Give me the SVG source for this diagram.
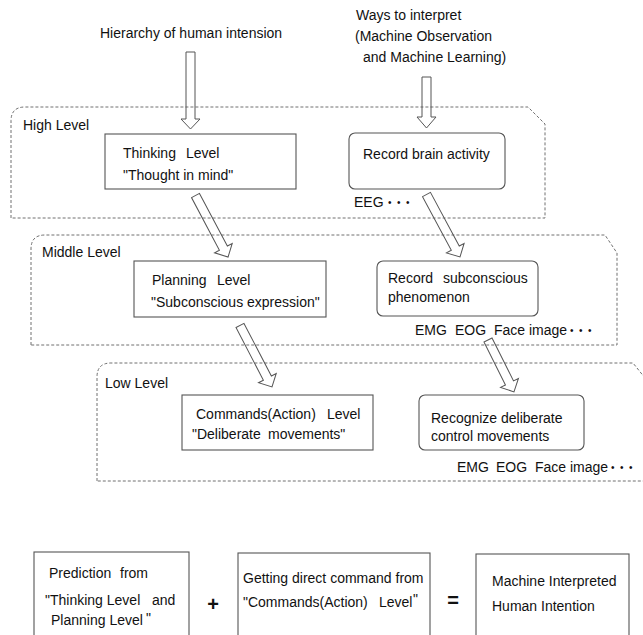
<svg xmlns="http://www.w3.org/2000/svg" width="643" height="635" viewBox="0 0 643 635">
<style>
text{font-family:"Liberation Sans",Arial,sans-serif;font-size:14px;fill:#111;white-space:pre}
.region{fill:none;stroke:#707070;stroke-width:1;stroke-dasharray:3,2}
.box{fill:#fff;stroke:#555;stroke-width:1.1}
.arrow{fill:none;stroke:#555;stroke-width:1}
.dots{font-size:10px;letter-spacing:0}
.op{font-size:20px;font-weight:bold}
</style>
<rect width="643" height="635" fill="#fff"/>
<g id="regions">
<path id="high-level-frame" class="region" d="M11,218 L11,121 Q11,107 25,107 L528,107 L545,124 L545,218 Z"/>
<path id="middle-level-frame" class="region" d="M31,345 L31,249 Q31,235 45,235 L605,235 L617,253 L617,345 Z"/>
<path id="low-level-frame" class="region" d="M97,481 L97,377 Q97,363 111,363 L633,363 L645,378 L645,481 Z"/>
</g>
<g id="labels">
<text x="100" y="38">Hierarchy of human intension</text>
<text x="356" y="20">Ways to interpret</text>
<text x="355" y="41">(Machine Observation</text>
<text x="363" y="62">and Machine Learning)</text>
<text x="23" y="130">High Level</text>
<text x="42" y="257">Middle Level</text>
<text x="105" y="388">Low Level</text>
<text x="354" y="207">EEG</text>
<text class="dots" x="388" y="206">•  •  •</text>
<text x="415" y="335">EMG</text><text x="455" y="335">EOG</text><text x="494" y="335">Face image</text>
<text class="dots" x="570" y="334">•  •  •</text>
<text x="457" y="472">EMG</text><text x="496" y="472">EOG</text><text x="535" y="472">Face image</text>
<text class="dots" x="611" y="471">•  •  •</text>
</g>
<g id="connectors">
<polygon class="arrow" points="186,52 195,52 195,119 200,119 190.5,129 181,119 186,119"/>
<polygon class="arrow" points="422,77 431,77 431,117 436,117 426.5,128 417,117 422,117"/>
<path class="arrow" transform="translate(195.5,195.5) rotate(62.1)" d="M0,-4.5 L59.6,-4.5 L59.6,-10 L69.6,0 L59.6,10 L59.6,4.5 L0,4.5 Z"/>
<path class="arrow" transform="translate(426.5,194.5) rotate(61.8)" d="M0,-4.5 L60.9,-4.5 L60.9,-10 L70.9,0 L60.9,10 L60.9,4.5 L0,4.5 Z"/>
<path class="arrow" transform="translate(240,325.5) rotate(62.5)" d="M0,-4.5 L59.3,-4.5 L59.3,-10 L69.3,0 L59.3,10 L59.3,4.5 L0,4.5 Z"/>
<path class="arrow" transform="translate(488,340) rotate(63.4)" d="M0,-4.5 L48,-4.5 L48,-10 L58,0 L48,10 L48,4.5 L0,4.5 Z"/>
</g>
<g id="thinking-level">
<rect class="box" x="105" y="134" width="191" height="55"/>
<text x="123" y="158">Thinking</text><text x="186" y="158">Level</text>
<text x="123" y="180">"Thought in mind"</text>
</g>
<g id="record-brain-activity">
<rect class="box" x="349" y="133" width="156" height="56" rx="6"/>
<text x="363" y="159">Record brain activity</text>
</g>
<g id="planning-level">
<rect class="box" x="134" y="261" width="192" height="56"/>
<text x="152" y="285">Planning</text><text x="217" y="285">Level</text>
<text x="151" y="307">"Subconscious expression"</text>
</g>
<g id="record-subconscious">
<rect class="box" x="377" y="261" width="161" height="55" rx="6"/>
<text x="388" y="283">Record</text><text x="443" y="283">subconscious</text>
<text x="388" y="302">phenomenon</text>
</g>
<g id="commands-level">
<rect class="box" x="182" y="395" width="191" height="55"/>
<text x="196" y="419">Commands(Action)</text><text x="327" y="419">Level</text>
<text x="192" y="439">"Deliberate</text><text x="268" y="439">movements"</text>
</g>
<g id="recognize-deliberate">
<rect class="box" x="419" y="395" width="165" height="55" rx="6"/>
<text x="431" y="423">Recognize deliberate</text>
<text x="431" y="441">control movements</text>
</g>
<g id="prediction">
<rect class="box" x="34" y="552" width="155" height="100"/>
<text x="49" y="578">Prediction</text><text x="120" y="578">from</text>
<text x="45" y="605">"Thinking Level</text><text x="152" y="605">and</text>
<text x="51" y="625">Planning Level</text><text x="146" y="623" font-size="12">"</text>
</g>
<text class="op" x="213" y="611" text-anchor="middle">+</text>
<g id="direct-command">
<rect class="box" x="238" y="553" width="192" height="100"/>
<text x="243" y="583">Getting direct command from</text>
<text x="243" y="607">"Commands(Action)</text><text x="379" y="607">Level</text><text x="413" y="604" font-size="12">"</text>
</g>
<text class="op" x="453" y="607" text-anchor="middle">=</text>
<g id="machine-interpreted">
<rect class="box" x="476" y="554" width="153" height="100"/>
<text x="492" y="586">Machine Interpreted</text>
<text x="492" y="611">Human Intention</text>
</g>
</svg>
